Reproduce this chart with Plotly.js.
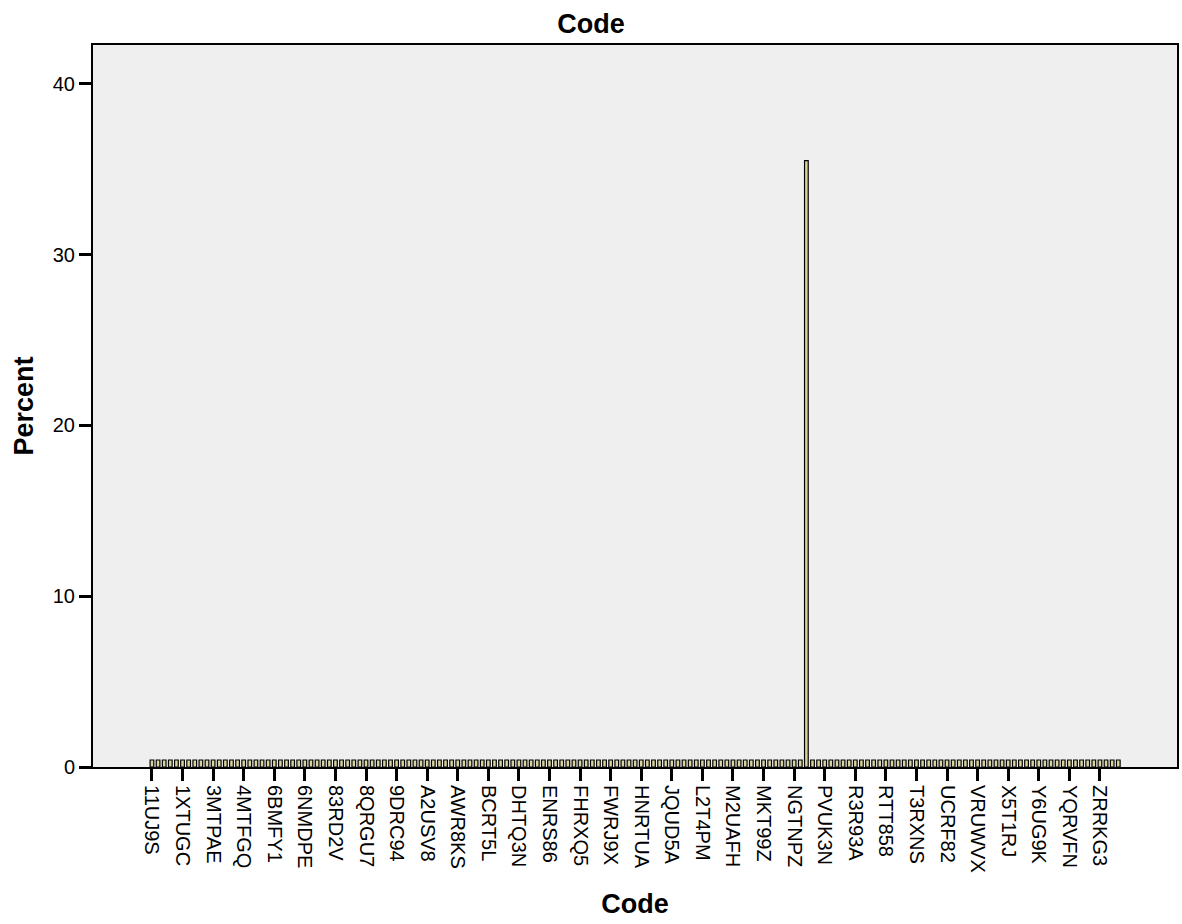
<!DOCTYPE html>
<html><head><meta charset="utf-8">
<script src="https://cdn.plot.ly/plotly-3.0.1.min.js"></script>
<style>body{margin:0;background:#fff}#chart{width:1182px;height:924px}</style>
</head><body><div id="chart"></div>
<script>
// Tick labels (every 5th category is labelled in the reference)
const tickLabels = ["11UJ9S","1XTUGC","3MTPAE","4MTFGQ","6BMFY1","6NMDPE","83RD2V","8QRGU7","9DRC94","A2USV8",
  "AWR8KS","BCRT5L","DHTQ3N","ENRS86","FHRXQ5","FWRJ9X","HNRTUA","JQUD5A","L2T4PM","M2UAFH",
  "MKT99Z","NGTNPZ","PVUK3N","R3R93A","RTT858","T3RXNS","UCRF82","VRUWVX","X5T1RJ","Y6UG9K",
  "YQRVFN","ZRRKG3"];
const tickPositions = [0,5,10,15,20,25,30,35,40,45,50,55,60,65,70,75,80,85,90,95,100,105,110,115,120,125,130,135,140,145,150,155];
// Percent per category (159 codes)
const percentValues = [
  0.41,0.41,0.41,0.41,0.41,0.41,0.41,0.41,0.41,0.41,
  0.41,0.41,0.41,0.41,0.41,0.41,0.41,0.41,0.41,0.41,
  0.41,0.41,0.41,0.41,0.41,0.41,0.41,0.41,0.41,0.41,
  0.41,0.41,0.41,0.41,0.41,0.41,0.41,0.41,0.41,0.41,
  0.41,0.41,0.41,0.41,0.41,0.41,0.41,0.41,0.41,0.41,
  0.41,0.41,0.41,0.41,0.41,0.41,0.41,0.41,0.41,0.41,
  0.41,0.41,0.41,0.41,0.41,0.41,0.41,0.41,0.41,0.41,
  0.41,0.41,0.41,0.41,0.41,0.41,0.41,0.41,0.41,0.41,
  0.41,0.41,0.41,0.41,0.41,0.41,0.41,0.41,0.41,0.41,
  0.41,0.41,0.41,0.41,0.41,0.41,0.41,0.41,0.41,0.41,
  0.41,0.41,0.41,0.41,0.41,0.41,0.41,35.51,0.41,0.41,
  0.41,0.41,0.41,0.41,0.41,0.41,0.41,0.41,0.41,0.41,
  0.41,0.41,0.41,0.41,0.41,0.41,0.41,0.41,0.41,0.41,
  0.41,0.41,0.41,0.41,0.41,0.41,0.41,0.41,0.41,0.41,
  0.41,0.41,0.41,0.41,0.41,0.41,0.41,0.41,0.41,0.41,
  0.41,0.41,0.41,0.41,0.41,0.41,0.41,0.41,0.41
];
const categoryIndex = percentValues.map((v,i)=>i);

const font = "Liberation Sans, Arial, sans-serif";
Plotly.newPlot('chart', [{
  type:'bar', x: categoryIndex, y: percentValues,
  width: 0.6,
  marker:{color:'#d8d49c', line:{color:'#000', width:1.2}},
  hoverinfo:'y'
}], {
  width:1182, height:924,
  margin:{l:93, r:5, t:45, b:157},
  paper_bgcolor:'#fff', plot_bgcolor:'#efefef',
  title:{text:'<b>Code</b>', x:0.5, xanchor:'center', y:0.975, yanchor:'middle', font:{family:font, size:27, color:'#000'}},
  font:{family:font, color:'#000'},
  bargap:0,
  xaxis:{range:[-9.64,167.6], tickmode:'array', tickvals:tickPositions, ticktext:tickLabels,
    tickangle:90, ticks:'outside', ticklen:12, tickwidth:3, tickcolor:'#000',
    tickfont:{family:font, size:20, color:'#000'},
    showgrid:false, zeroline:false, showline:true, linecolor:'#000', linewidth:2, mirror:true,
    title:{text:'<b>Code</b>', font:{family:font, size:27, color:'#000'}, standoff:22}},
  yaxis:{range:[0,42.28], tickvals:[0,10,20,30,40], ticks:'outside', ticklen:12, tickwidth:3, tickcolor:'#000',
    tickfont:{family:font, size:20, color:'#000'},
    showgrid:false, zeroline:false, showline:true, linecolor:'#000', linewidth:2, mirror:true,
    title:{text:'<b>Percent</b>', font:{family:font, size:27, color:'#000'}, standoff:11}},
  showlegend:false
}, {displayModeBar:false, staticPlot:true});
</script></body></html>
